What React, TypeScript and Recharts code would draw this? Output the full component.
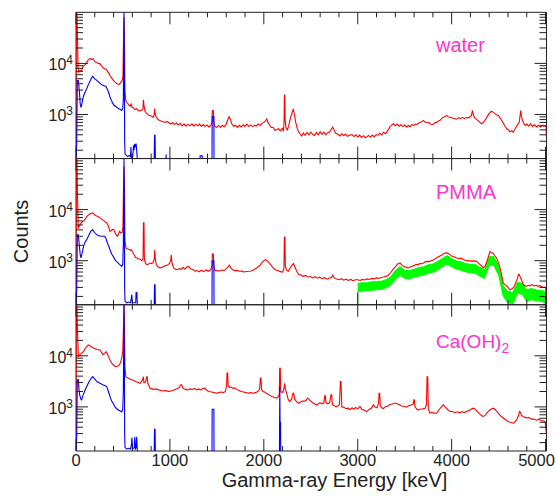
import React from 'react';
import { ComposedChart, Line, Area, XAxis, YAxis, ReferenceArea } from 'recharts';

// ---------- data: [energy keV, counts] ----------
const waterRed: [number, number][] = [
  [0,100],[4,100000],[10,100000],[16,30000],[22,8000],[30,6800],[42,7300],[58,6900],[75,8800],[92,9200],[110,10200],[128,11600],[149,12500],[165,11900],[182,12300],[200,10800],[218,10400],[238,10000],[256,9800],[274,8800],[292,8100],[308,7800],[322,7700],[338,6900],[352,6300],[366,5600],[382,5100],[400,4600],[416,4300],[432,4050],[448,3950],[462,3900],[476,4200],[490,4600],[500,5500],[506,30000],[511,80000],[516,30000],[521,3000],[530,1880],[545,1700],[560,1560],[575,1450],[586,1600],[596,1400],[612,1350],[628,1250],[645,1300],[662,1200],[680,1180],[698,1220],[712,1250],[718,1940],[724,1500],[735,1150],[752,1050],[770,980],[788,960],[805,920],[822,880],[833,1000],[838,1300],[846,950],[862,850],[878,790],[894,760],[912,740],[930,720],[950,700],[970,730],[990,690],
  [1010,650],[1030,690],[1050,640],[1070,680],[1090,620],[1110,670],[1130,600],[1150,655],[1170,590],[1190,640],[1214,600],[1235,655],[1255,590],[1275,645],[1295,600],[1315,650],[1335,585],[1355,635],[1375,580],[1395,625],[1415,570],[1435,610],[1448,700],[1452,1200],[1462,1200],[1468,700],[1480,580],[1498,560],[1518,610],[1538,560],[1558,615],[1578,575],[1598,640],[1615,780],[1630,910],[1645,800],[1660,650],[1680,590],[1700,615],[1720,560],[1740,615],[1760,570],[1780,630],[1800,585],[1820,645],[1840,580],[1860,625],[1880,580],[1900,615],[1920,595],[1940,650],[1960,610],[1980,670],[2000,700],[2020,760],[2031,820],[2045,700],[2060,630],[2080,560],[2100,555],[2120,490],[2137,500],[2155,530],[2175,480],[2195,535],[2210,470],[2216,800],[2219,2400],[2223,2400],[2227,800],[2235,560],[2250,500],[2265,600],[2280,800],[2295,1000],[2314,1290],[2325,1000],[2340,700],[2355,540],[2370,460],[2385,420],
  [2403,380],[2420,435],[2440,390],[2460,445],[2480,400],[2500,450],[2520,410],[2540,390],[2560,445],[2580,400],[2600,460],[2620,410],[2640,450],[2660,400],[2680,440],[2700,455],[2720,520],[2734,565],[2748,500],[2765,430],[2785,415],[2811,380],[2830,420],[2850,385],[2870,415],[2890,375],[2918,395],[2940,405],[2960,370],[2980,400],[3000,365],[3020,395],[3040,360],[3060,385],[3080,350],[3096,365],[3115,390],[3135,360],[3155,395],[3175,365],[3195,400],[3215,395],[3235,430],[3255,400],[3275,450],[3295,420],[3309,451],[3325,500],[3340,570],[3360,620],[3380,657],[3400,600],[3420,650],[3440,590],[3460,630],[3480,580],[3500,620],[3520,570],[3540,610],[3557,575],[3575,630],[3595,610],[3615,650],[3635,640],[3655,690],[3675,710],[3699,763],[3715,710],[3735,690],[3755,705],[3775,645],[3802,637],[3820,690],[3840,700],[3860,750],[3880,775],[3900,860],[3920,895],[3948,960],[3965,890],[3985,885],[4005,850],[4025,835],[4054,810],[4075,870],[4095,830],[4115,880],[4135,830],[4155,870],[4175,860],[4196,900],[4210,950],[4222,1200],[4230,1000],[4245,860],[4260,820],[4280,760],[4300,700],[4320,657],[4340,700],[4360,800],[4380,920],[4400,1050],[4415,1130],[4427,1150],[4445,1100],[4460,1040],[4480,980],[4498,956],[4515,860],[4530,780],[4550,680],[4570,580],[4587,524],[4605,500],[4620,460],[4640,480],[4657,451],[4675,520],[4690,580],[4705,640],[4720,700],[4730,1000],[4736,1200],[4742,950],[4755,750],[4770,660],[4785,610],[4800,650],[4820,590],[4840,660],[4860,580],[4880,630],[4906,570],[4925,615],[4945,570],[4965,620],[4985,590],[5005,600],[5008,380]
];

const waterBlue: [number, number][] = [
  [0,100],[8,300],[14,4600],[25,4600],[35,3000],[45,1600],[53,1370],[65,1700],[80,2300],[95,2700],[114,3200],[130,3800],[150,4500],[165,5200],[178,5550],[195,5100],[212,4800],[230,4500],[256,4050],[275,3800],[292,3700],[308,3600],[320,3500],[335,3100],[350,2600],[362,2200],[376,1900],[392,1650],[408,1500],[424,1430],[440,1350],[456,1300],[472,1250],[487,1200],[498,1300],[504,2000],[507,10000],[511,100000],[515,10000],[518,300],[522,170],[535,160],[550,150],[565,158],[580,150],[585,230],[590,140],[605,150],[612,250],[618,200],[625,265],[632,230],[640,270],[646,200],[652,140],[660,100],[832,100],[836,390],[842,390],[846,100],[956,100],[960,165],[964,100],[1318,100],[1322,155],[1344,155],[1348,100],[1448,100],[1450,913],[1468,913],[1470,100],[5010,100]
];

const pmmaRed: [number, number][] = [
  [0,100],[4,100000],[10,100000],[16,20000],[24,4400],[35,4800],[50,5300],[65,5700],[80,6000],[95,6350],[112,7200],[130,7800],[150,8300],[178,8600],[195,8000],[215,7600],[235,7300],[256,6900],[275,6500],[295,6100],[312,5700],[327,5500],[340,5000],[352,4300],[362,3760],[375,3900],[390,4100],[402,4050],[414,3600],[428,3200],[440,3000],[452,3300],[464,3760],[476,3500],[490,3600],[500,4500],[506,30000],[511,70000],[516,30000],[521,2500],[532,1770],[548,1700],[565,1650],[578,1600],[590,1640],[602,1500],[618,1300],[634,1150],[650,1130],[668,1080],[686,1050],[702,1000],[714,1100],[718,5500],[724,5500],[728,1100],[740,880],[756,835],[772,860],[790,900],[808,880],[824,950],[834,1100],[838,1640],[844,1100],[856,820],[872,760],[894,720],[915,740],[935,780],[955,800],[975,820],[995,880],[1008,1000],[1014,1310],[1022,900],[1040,720],[1060,680],[1080,666],[1100,700],[1120,680],[1140,735],[1160,690],[1180,750],[1200,773],[1220,690],[1245,670],[1270,625],[1290,640],[1310,605],[1335,650],[1360,610],[1385,660],[1410,620],[1435,665],[1448,800],[1452,1350],[1462,1350],[1468,800],[1480,640],[1500,640],[1525,630],[1550,655],[1575,640],[1600,700],[1620,760],[1632,820],[1645,740],[1665,670],[1690,640],[1715,645],[1740,620],[1765,625],[1790,600],[1815,615],[1840,620],[1865,630],[1890,660],[1915,700],[1940,760],[1960,820],[1980,920],[2000,1000],[2020,1050],[2040,980],[2060,900],[2080,800],[2100,720],[2125,660],[2150,640],[2175,610],[2200,600],[2214,700],[2219,2900],[2224,2900],[2229,800],[2240,660],[2260,620],[2280,720],[2300,820],[2315,880],[2330,760],[2350,620],[2370,540],[2395,525],[2420,495],[2445,515],[2470,480],[2495,490],[2520,460],[2545,485],[2570,455],[2595,475],[2620,445],[2645,465],[2670,435],[2695,455],[2720,470],[2735,520],[2750,460],[2775,440],[2800,425],[2825,445],[2850,415],[2875,435],[2900,410],[2925,430],[2950,405],[2975,425],[3000,424],[3025,410],[3050,430],[3075,420],[3100,440],[3125,430],[3150,450],[3175,440],[3200,460],[3225,450],[3250,470],[3275,480],[3300,493],[3325,520],[3350,580],[3375,680],[3400,760],[3425,860],[3450,900],[3475,800],[3500,760],[3520,740],[3538,720],[3560,750],[3580,780],[3600,800],[3620,850],[3640,830],[3660,880],[3680,870],[3700,900],[3720,950],[3735,970],[3760,960],[3780,1000],[3800,1020],[3830,1100],[3860,1200],[3880,1250],[3900,1300],[3920,1400],[3948,1420],[3965,1380],[3985,1300],[4005,1220],[4030,1180],[4054,1130],[4080,1100],[4100,1120],[4125,1050],[4150,1000],[4175,1010],[4200,980],[4230,990],[4266,970],[4285,900],[4300,850],[4320,780],[4337,720],[4355,780],[4370,900],[4385,1100],[4400,1350],[4408,1520],[4420,1450],[4440,1400],[4460,1250],[4479,1130],[4495,950],[4510,780],[4525,600],[4540,450],[4550,366],[4565,340],[4580,330],[4600,300],[4620,270],[4640,280],[4660,300],[4680,360],[4700,450],[4712,540],[4720,531],[4730,480],[4745,420],[4760,350],[4775,330],[4793,314],[4815,330],[4835,320],[4855,340],[4875,320],[4900,330],[4920,315],[4940,325],[4960,310],[4980,300],[5000,300],[5008,200]
];

const pmmaBlue: [number, number][] = [
  [0,100],[8,300],[14,3200],[25,3200],[35,2000],[45,1300],[53,1130],[65,1400],[80,1900],[95,2300],[114,2580],[135,3100],[155,3700],[178,4050],[195,3600],[215,3300],[233,3100],[255,3050],[280,3000],[305,3000],[320,2700],[335,2200],[350,1900],[362,1640],[380,1350],[398,1200],[415,1050],[435,950],[455,880],[472,820],[487,773],[498,850],[504,2000],[507,10000],[511,100000],[515,10000],[518,300],[522,160],[540,150],[560,155],[580,150],[588,180],[594,216],[600,150],[636,150],[640,239],[648,239],[652,150],[660,100],[832,100],[836,338],[842,338],[846,100],[1448,100],[1450,1000],[1468,1000],[1470,100],[5010,100]
];

const pmmaGreenE = [3000,3050,3100,3150,3200,3250,3300,3350,3400,3450,3500,3550,3600,3650,3700,3750,3800,3850,3900,3950,4000,4050,4100,4150,4200,4250,4300,4350,4400,4450,4500,4550,4600,4650,4700,4750,4800,4850,4900,4950,5000];
const pmmaGreenHi = [360,372,368,385,392,398,425,480,640,770,650,645,680,735,760,830,860,965,1100,1260,1100,990,955,880,850,845,740,660,1200,1210,800,320,250,240,380,360,270,285,268,262,250];
const pmmaGreenLo = [250,252,262,262,272,270,292,330,430,520,450,436,472,498,522,560,588,650,760,850,760,680,648,600,582,566,500,448,820,800,520,200,150,140,230,220,160,172,164,160,150];
const pmmaGreenEdge: [number, number][] = [[3000,100],[3000,250]];

const caRed: [number, number][] = [
  [0,100],[4,100000],[10,100000],[16,30000],[25,9700],[35,10200],[50,10800],[65,11500],[78,12000],[95,13500],[112,15000],[130,16400],[148,15800],[165,15000],[185,14200],[205,13800],[225,13300],[256,13000],[272,11500],[290,10500],[305,11200],[320,12000],[335,10800],[350,9200],[365,8000],[380,7200],[400,6600],[418,6200],[432,6160],[448,6300],[462,6600],[476,7600],[487,9000],[498,12000],[506,40000],[511,100000],[516,40000],[521,6000],[532,3830],[548,3700],[565,3600],[582,3450],[600,3380],[620,3250],[640,3100],[660,3000],[681,2900],[700,3200],[712,3500],[717,3900],[723,3000],[735,3000],[745,3300],[752,3900],[758,3900],[765,2900],[788,2320],[810,2250],[830,2200],[855,2250],[880,2150],[905,2100],[930,2050],[955,2080],[990,2000],[1010,2050],[1030,2100],[1055,2200],[1080,2300],[1100,2400],[1115,2700],[1126,2700],[1140,2300],[1165,2200],[1190,2150],[1215,2250],[1240,2200],[1265,2300],[1285,2150],[1305,2250],[1330,2150],[1355,2300],[1374,2300],[1395,2100],[1420,2000],[1445,1950],[1470,1900],[1498,1850],[1520,1900],[1545,1950],[1570,1900],[1590,2000],[1604,2600],[1608,4600],[1615,4600],[1620,2600],[1635,2400],[1650,2450],[1670,2300],[1690,2350],[1710,2200],[1735,2100],[1760,2000],[1785,1950],[1810,1900],[1835,1850],[1860,1900],[1885,1850],[1910,1900],[1935,2000],[1955,2200],[1964,3650],[1970,3650],[1976,2200],[1990,2000],[2010,1950],[2035,1800],[2060,1700],[2085,1600],[2110,1550],[2137,1480],[2155,1600],[2165,1800],[2169,5700],[2175,5700],[2180,2000],[2195,1900],[2210,2100],[2222,2900],[2230,2200],[2245,1800],[2260,1400],[2275,1270],[2295,1400],[2310,1850],[2318,1850],[2330,1400],[2350,1250],[2370,1180],[2390,1250],[2410,1300],[2430,1280],[2450,1350],[2465,1480],[2480,1400],[2500,1300],[2520,1200],[2540,1150],[2560,1090],[2580,1150],[2600,1200],[2620,1150],[2640,1200],[2648,1640],[2655,1640],[2662,1200],[2680,1150],[2700,1200],[2715,1720],[2722,1720],[2730,1100],[2750,1050],[2770,1000],[2790,1050],[2805,1100],[2815,3130],[2822,3130],[2830,1000],[2850,990],[2875,925],[2900,945],[2918,880],[2940,960],[2960,900],[2980,975],[3000,915],[3024,1020],[3045,890],[3070,865],[3096,800],[3120,890],[3145,940],[3166,1100],[3185,990],[3205,960],[3222,1200],[3227,1850],[3234,1850],[3240,1050],[3255,960],[3273,930],[3295,1010],[3320,1040],[3345,1110],[3370,1140],[3395,1190],[3415,1170],[3440,1110],[3465,1040],[3490,1030],[3522,990],[3545,1060],[3570,1090],[3592,1150],[3597,1370],[3603,1370],[3610,1000],[3630,900],[3645,873],[3670,910],[3695,915],[3717,943],[3732,1100],[3738,3900],[3745,3900],[3752,900],[3770,750],[3790,790],[3810,755],[3841,750],[3860,850],[3880,950],[3900,1050],[3912,1100],[3930,1000],[3955,900],[3983,810],[4010,810],[4035,770],[4060,800],[4089,765],[4110,810],[4135,775],[4161,820],[4185,845],[4210,910],[4231,943],[4250,900],[4275,800],[4300,720],[4320,680],[4337,645],[4360,700],[4385,800],[4410,880],[4430,920],[4444,943],[4465,880],[4490,780],[4515,680],[4535,640],[4551,600],[4575,560],[4600,520],[4625,500],[4657,480],[4680,520],[4700,600],[4715,700],[4722,810],[4732,780],[4745,680],[4765,640],[4800,610],[4825,620],[4850,575],[4875,580],[4906,550],[4930,575],[4955,535],[4975,535],[4995,515],[5008,300]
];

const caBlue: [number, number][] = [
  [0,100],[8,300],[14,3380],[25,3380],[32,2200],[39,1720],[50,1450],[60,1370],[75,1700],[95,2100],[114,2500],[135,3000],[155,3500],[178,3900],[200,3500],[225,3100],[256,2900],[285,2700],[310,2600],[327,2500],[345,2000],[362,1600],[380,1300],[398,1150],[415,1000],[435,920],[455,860],[472,830],[487,800],[498,900],[504,2000],[507,10000],[511,100000],[515,10000],[518,300],[522,160],[540,150],[560,155],[580,150],[590,180],[596,250],[602,150],[620,160],[626,260],[632,150],[640,160],[646,260],[652,150],[660,100],[832,100],[836,365],[842,365],[846,100],[1448,100],[1450,900],[1468,900],[1470,100],[2166,100],[2170,2500],[2173,500],[2178,500],[2180,100],[5010,100]
];

const xTicks = [0,200,400,600,800,1000,1200,1400,1600,1800,2000,2200,2400,2600,2800,3000,3200,3400,3600,3800,4000,4200,4400,4600,4800,5000];
const xLabels = [0,1000,2000,3000,4000,5000];
const yTicks = [200,300,400,500,600,700,800,900,1000,2000,3000,4000,5000,6000,7000,8000,9000,10000,20000,30000,40000,50000,60000,70000,80000,90000];
const yLabels = [1000, 10000];
const yLabelExp = ['3', '4'];
const panelNames = ['water', 'PMMA', 'Ca(OH)'];

// ---------- layout ----------
const W = 556, H = 498;
const PLOT_L = 76, PLOT_R = 546.5;
const PANEL_TOP = [12.3, 158.5, 304.7];
const PANEL_H = 146.3;
const Y_DOMAIN: [number, number] = [137, 100000];
const X_DOMAIN: [number, number] = [0, 5010];
const FONT = '"Liberation Sans", Arial, Helvetica, sans-serif';
const AX = '#222';

const pts = (arr: [number, number][]) => arr.map(([e, v]) => ({ e, v }));
const greenData = pmmaGreenE.map((e, i) => ({ e, g: [pmmaGreenLo[i], pmmaGreenHi[i]] }));

function Panel({ idx, red, blue, withGreen }: { idx: number; red: [number, number][]; blue: [number, number][]; withGreen?: boolean }) {
  const top = PANEL_TOP[idx];
  const bottom = top + PANEL_H;
  const isLast = idx === 2;
  const xAxisH = 1;

  const XTick = (p: any) => {
    const x = p.payload && typeof p.payload.coordinate === 'number' ? p.payload.coordinate : p.x;
    const v = p.payload.value;
    const major = v % 1000 === 0;
    const len = major ? 12 : 5;
    const li = xLabels.indexOf(v);
    return (
      <g>
        <line x1={x} x2={x} y1={bottom} y2={bottom - len} stroke={AX} strokeWidth={1} />
        <line x1={x} x2={x} y1={top} y2={top + len} stroke={AX} strokeWidth={1} />
        {isLast && li >= 0 ? (
          <text x={v === 5000 ? x - 9 : x} y={465.5} textAnchor="middle" fontSize={16.5} fontFamily={FONT} fill={AX}>{String(v)}</text>
        ) : null}
      </g>
    );
  };

  const YTick = (p: any) => {
    const y = p.payload && typeof p.payload.coordinate === 'number' ? p.payload.coordinate : p.y;
    const v = p.payload.value;
    const li = yLabels.indexOf(v);
    const len = li >= 0 ? 12 : 7;
    return (
      <g>
        <line x1={PLOT_L} x2={PLOT_L + len} y1={y} y2={y} stroke={AX} strokeWidth={1} />
        <line x1={PLOT_R} x2={PLOT_R - len} y1={y} y2={y} stroke={AX} strokeWidth={1} />
        {li >= 0 ? (
          <text x={73} y={y + 7} textAnchor="end" fontSize={16} fontFamily={FONT} fill={AX}>
            <tspan>10</tspan>
            <tspan dy={-6} fontSize={12}>{yLabelExp[li]}</tspan>
          </text>
        ) : null}
      </g>
    );
  };

  return (
    <div style={{ position: 'absolute', left: 0, top: 0, width: W, height: H }}>
      <ComposedChart
        width={W}
        height={H}
        margin={{ top, right: W - PLOT_R, bottom: H - bottom - xAxisH, left: 0 }}
      >
        <XAxis
          type="number"
          dataKey="e"
          domain={X_DOMAIN}
          ticks={xTicks}
          interval={0}
          allowDataOverflow
          axisLine={false}
          tickLine={false}
          height={xAxisH}
          tick={XTick}
        />
        <YAxis
          type="number"
          scale="log"
          domain={Y_DOMAIN}
          ticks={yTicks}
          interval={0}
          allowDataOverflow
          axisLine={false}
          tickLine={false}
          width={PLOT_L}
          tick={YTick}
        />
        <Line data={pts(red)} dataKey="v" type="linear" stroke="#ff0000" strokeWidth={1.1} dot={false} activeDot={false} isAnimationActive={false} />
        <Line data={pts(blue)} dataKey="v" type="linear" stroke="#0000ff" strokeWidth={1.1} dot={false} activeDot={false} isAnimationActive={false} />
        {withGreen ? (
          <Area data={greenData} dataKey="g" type="linear" stroke="#00ff00" strokeWidth={1} fill="#00ff00" fillOpacity={1} dot={false} activeDot={false} isAnimationActive={false} />
        ) : null}
        {withGreen ? (
          <Line data={pts(pmmaGreenEdge)} dataKey="v" type="linear" stroke="#00ff00" strokeWidth={1.2} dot={false} activeDot={false} isAnimationActive={false} />
        ) : null}
        <ReferenceArea x1={X_DOMAIN[0]} x2={X_DOMAIN[1]} y1={Y_DOMAIN[0]} y2={Y_DOMAIN[1]} fill="none" stroke={AX} strokeWidth={1} ifOverflow="visible" />
      </ComposedChart>
    </div>
  );
}

export default function App() {
  return (
    <div style={{ position: 'absolute', left: 0, top: 0, width: W, height: H, background: '#fff' }}>
      <Panel idx={0} red={waterRed} blue={waterBlue} />
      <Panel idx={1} red={pmmaRed} blue={pmmaBlue} withGreen />
      <Panel idx={2} red={caRed} blue={caBlue} />
      <svg width={W} height={H} style={{ position: 'absolute', left: 0, top: 0, pointerEvents: 'none' }}>
        <text x={436} y={52} fontSize={20} fontFamily={FONT} fill="#ff33cc">{panelNames[0]}</text>
        <text x={436} y={199} fontSize={20} fontFamily={FONT} fill="#ff33cc">{panelNames[1]}</text>
        <text x={436} y={348} fontSize={19} fontFamily={FONT} fill="#ff33cc">
          <tspan>{panelNames[2]}</tspan>
          <tspan dy={5} fontSize={14}>2</tspan>
        </text>
        <text x={28} y={231.5} transform="rotate(-90 28 231.5)" textAnchor="middle" fontSize={20} fontFamily={FONT} fill={AX}>Counts</text>
        <text x={334.5} y={487} textAnchor="middle" fontSize={20} fontFamily={FONT} fill={AX}>Gamma-ray Energy [keV]</text>
      </svg>
    </div>
  );
}
